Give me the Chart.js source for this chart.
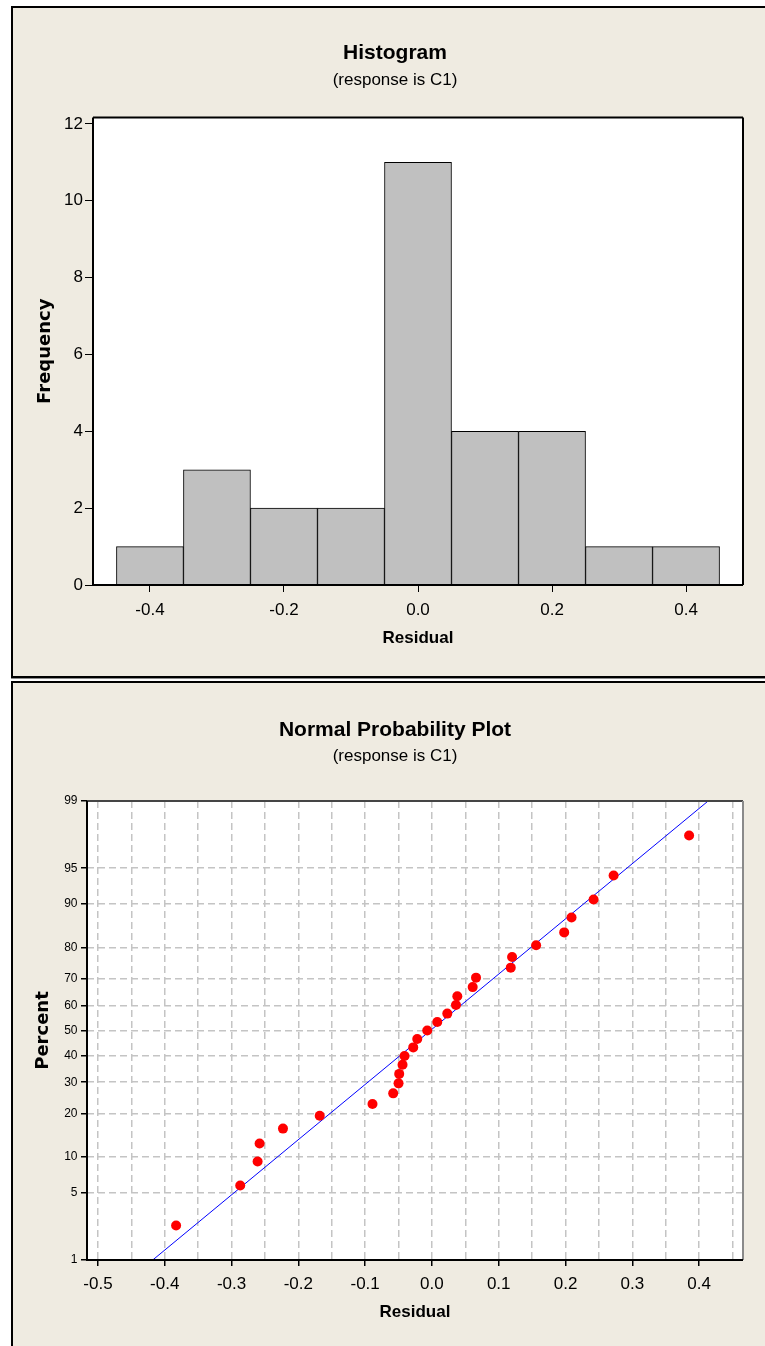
<!DOCTYPE html>
<html>
<head>
<meta charset="utf-8">
<script src="https://cdn.jsdelivr.net/npm/chart.js@4/dist/chart.umd.min.js"></script>
<style>
  html, body { margin: 0; padding: 0; background: #fff; overflow: hidden; }
  .panel { position: absolute; left: 11px; width: 800px; background: #efebe1;
           border-left: 2px solid #000; border-top: 2px solid #000; }
  #panel1 { top: 6px; height: 668px; border-bottom: 2px solid #000; box-shadow: 0 1px 0 #8c8c8c; }
  #panel2 { top: 681px; height: 700px; }
  canvas { position: absolute; left: 0; top: 0; }
</style>
</head>
<body>
<div class="panel" id="panel1"><canvas id="histogram" width="752" height="668"></canvas></div>
<div class="panel" id="panel2"><canvas id="probplot" width="752" height="663"></canvas></div>
<script>
// histogram of residuals
const binCenters = [-0.4, -0.3, -0.2, -0.1, 0.0, 0.1, 0.2, 0.3, 0.4];
const binCounts = [1, 3, 2, 2, 11, 4, 4, 1, 1];

// normal probability plot
const residuals = [-0.383, -0.287, -0.261, -0.258, -0.223, -0.168, -0.089, -0.058, -0.050,
  -0.049, -0.044, -0.041, -0.028, -0.022, -0.007, 0.008, 0.023, 0.036, 0.038, 0.061,
  0.066, 0.118, 0.120, 0.156, 0.198, 0.209, 0.242, 0.272, 0.385];
const percents = [2.4, 5.8, 9.2, 12.6, 16.0, 19.4, 22.8, 26.2, 29.6, 33.0, 36.4, 39.8,
  43.2, 46.6, 50.0, 53.4, 56.8, 60.2, 63.6, 67.0, 70.4, 73.8, 77.2, 80.6, 84.0, 87.4,
  90.8, 94.2, 97.6];
const fitX = [-0.418, 0.4135];
const fitPercent = [1, 99];
const percentTicks = [1, 5, 10, 20, 30, 40, 50, 60, 70, 80, 90, 95, 99];

const sans = "'Liberation Sans', Arial, sans-serif";
const wide = "'DejaVu Sans', Verdana, sans-serif";

// inverse normal cdf (Acklam), used by the probability axis
function probit(p) {
  const a = [-39.69683028665376, 220.9460984245205, -275.9285104469687, 138.3577518672690, -30.66479806614716, 2.506628277459239];
  const b = [-54.47609879822406, 161.5858368580409, -155.6989798598866, 66.80131188771972, -13.28068155288572];
  const c = [-0.007784894002430293, -0.3223964580411365, -2.400758277161838, -2.549732539343734, 4.374664141464968, 2.938163982698783];
  const d = [0.007784695709041462, 0.3224671290700398, 2.445134137142996, 3.754408661907416];
  const lo = 0.02425;
  if (p < lo) {
    const q = Math.sqrt(-2 * Math.log(p));
    return (((((c[0]*q+c[1])*q+c[2])*q+c[3])*q+c[4])*q+c[5]) / ((((d[0]*q+d[1])*q+d[2])*q+d[3])*q+1);
  }
  if (p > 1 - lo) {
    const q = Math.sqrt(-2 * Math.log(1 - p));
    return -(((((c[0]*q+c[1])*q+c[2])*q+c[3])*q+c[4])*q+c[5]) / ((((d[0]*q+d[1])*q+d[2])*q+d[3])*q+1);
  }
  const q = p - 0.5, r = q * q;
  return (((((a[0]*r+a[1])*r+a[2])*r+a[3])*r+a[4])*r+a[5])*q / (((((b[0]*r+b[1])*r+b[2])*r+b[3])*r+b[4])*r+1);
}

class ProbabilityScale extends Chart.LinearScale {
  determineDataLimits() {
    this.min = this.options.min;
    this.max = this.options.max;
  }
  buildTicks() {
    return percentTicks.map(v => ({ value: v }));
  }
  configure() {
    super.configure();
    this._zStart = probit(this.min / 100);
    this._zRange = probit(this.max / 100) - this._zStart;
  }
  getPixelForValue(value) {
    return this.getPixelForDecimal((probit(value / 100) - this._zStart) / this._zRange);
  }
}
ProbabilityScale.id = 'probability';
ProbabilityScale.defaults = {};
Chart.register(ProbabilityScale);

const plotFrame = {
  id: 'plotFrame',
  beforeDraw(chart) {
    const { ctx, chartArea: a } = chart;
    ctx.save();
    ctx.fillStyle = '#fff';
    ctx.fillRect(a.left, a.top, a.width, a.height);
    ctx.restore();
  },
  afterDraw(chart, args, opts) {
    const { ctx, chartArea: a } = chart;
    ctx.save();
    ctx.lineWidth = 2;
    ctx.strokeStyle = opts.topColor;
    ctx.beginPath(); ctx.moveTo(a.left, a.top); ctx.lineTo(a.right, a.top); ctx.stroke();
    ctx.strokeStyle = opts.rightColor;
    ctx.beginPath(); ctx.moveTo(a.right, a.top); ctx.lineTo(a.right, a.bottom); ctx.stroke();
    ctx.strokeStyle = '#000';
    ctx.beginPath(); ctx.moveTo(a.left, a.top); ctx.lineTo(a.left, a.bottom); ctx.lineTo(a.right, a.bottom); ctx.stroke();
    ctx.restore();
  }
};

function headings(title, titleTop, subGap, subBottom) {
  return {
    legend: { display: false },
    tooltip: { enabled: false },
    title: { display: true, text: title, color: '#000',
      font: { family: sans, size: 21, weight: 'bold', lineHeight: 1.2 },
      padding: { top: titleTop, bottom: 0 } },
    subtitle: { display: true, text: '(response is C1)', color: '#000',
      font: { family: sans, size: 17, lineHeight: 1.2 },
      padding: { top: subGap, bottom: subBottom } }
  };
}

new Chart(document.getElementById('histogram'), {
  type: 'bar',
  data: {
    datasets: [{
      data: binCenters.map((x, i) => ({ x: x, y: binCounts[i] })),
      backgroundColor: '#c0c0c0',
      borderColor: '#000',
      borderWidth: 1,
      barPercentage: 1,
      categoryPercentage: 1
    }]
  },
  options: {
    responsive: false, animation: false, devicePixelRatio: 1,
    layout: { padding: { left: 34, right: 22, top: 0, bottom: 0 } },
    plugins: Object.assign(headings('Histogram', 32.6, 4.2, 27.0),
      { plotFrame: { topColor: '#000', rightColor: '#000' } }),
    scales: {
      x: {
        type: 'linear', min: -0.485, max: 0.485, offset: false,
        grid: { offset: false, drawOnChartArea: false, tickLength: 7, tickColor: '#000' },
        border: { display: false },
        ticks: { stepSize: 0.2, includeBounds: false, padding: 7.8, color: '#000',
          maxRotation: 0, autoSkip: false,
          font: { family: sans, size: 17 }, callback: v => v.toFixed(1) },
        title: { display: true, text: 'Residual', color: '#000',
          font: { family: sans, size: 17, weight: 'bold', lineHeight: 1.2 },
          padding: { top: 0, bottom: 27.8 } },
        afterFit: s => { s.height = 91; }
      },
      y: {
        min: 0, max: 12.17,
        grid: { drawOnChartArea: false, tickLength: 8, tickColor: '#000' },
        border: { display: false },
        ticks: { stepSize: 2, includeBounds: false, padding: 2, color: '#000',
          font: { family: sans, size: 17 } },
        title: { display: true, text: 'Frequency', color: '#000',
          font: { family: wide, size: 18, weight: 'bold', lineHeight: 1.2 },
          padding: { top: -12.8, bottom: 0 } },
        afterFit: s => { s.width = 46; }
      }
    }
  },
  plugins: [plotFrame]
});

new Chart(document.getElementById('probplot'), {
  type: 'scatter',
  data: {
    datasets: [{
      data: residuals.map((x, i) => ({ x: x, y: percents[i] })),
      backgroundColor: '#ff0000',
      borderColor: '#ff0000',
      pointRadius: 5,
      borderWidth: 0
    }, {
      data: fitX.map((x, i) => ({ x: x, y: fitPercent[i] })),
      showLine: true,
      borderColor: '#0000ff',
      borderWidth: 1,
      pointRadius: 0
    }]
  },
  options: {
    responsive: false, animation: false, devicePixelRatio: 1,
    layout: { padding: { left: 34, right: 22, top: 0, bottom: 0 } },
    plugins: Object.assign(headings('Normal Probability Plot', 34.9, 3.2, 34.3),
      { plotFrame: { topColor: '#454545', rightColor: '#8a8a8a' } }),
    scales: {
      x: {
        type: 'linear', min: -0.5164, max: 0.4657,
        grid: { color: '#c4c4c4', lineWidth: 1.5, tickLength: 6,
          tickColor: c => (Math.round(c.tick.value * 100) % 10 === 0 ? '#000' : 'rgba(0,0,0,0)') },
        border: { display: false, dash: [7, 4] },
        ticks: { stepSize: 0.05, includeBounds: false, padding: 8.3, color: '#000',
          maxRotation: 0, autoSkip: false, font: { family: sans, size: 17 },
          callback: v => (Math.round(v * 100) % 10 === 0 ? v.toFixed(1) : '') },
        title: { display: true, text: 'Residual', color: '#000',
          font: { family: sans, size: 17, weight: 'bold', lineHeight: 1.2 },
          padding: { top: 0, bottom: 23.3 } },
        afterFit: s => { s.height = 86; }
      },
      y: {
        type: 'probability', min: 1, max: 99,
        grid: { color: '#c4c4c4', lineWidth: 1.5, tickLength: 6, tickColor: '#000' },
        border: { display: false, dash: [7, 4] },
        ticks: { padding: 3.5, color: '#000', autoSkip: false,
          font: { family: sans, size: 12 }, callback: (v, i) => String(percentTicks[i]) },
        title: { display: true, text: 'Percent', color: '#000',
          font: { family: wide, size: 18, weight: 'bold', lineHeight: 1.2 },
          padding: { top: -14.3, bottom: 0 } },
        afterFit: s => { s.width = 40; }
      }
    }
  },
  plugins: [plotFrame]
});
</script>
</body>
</html>
